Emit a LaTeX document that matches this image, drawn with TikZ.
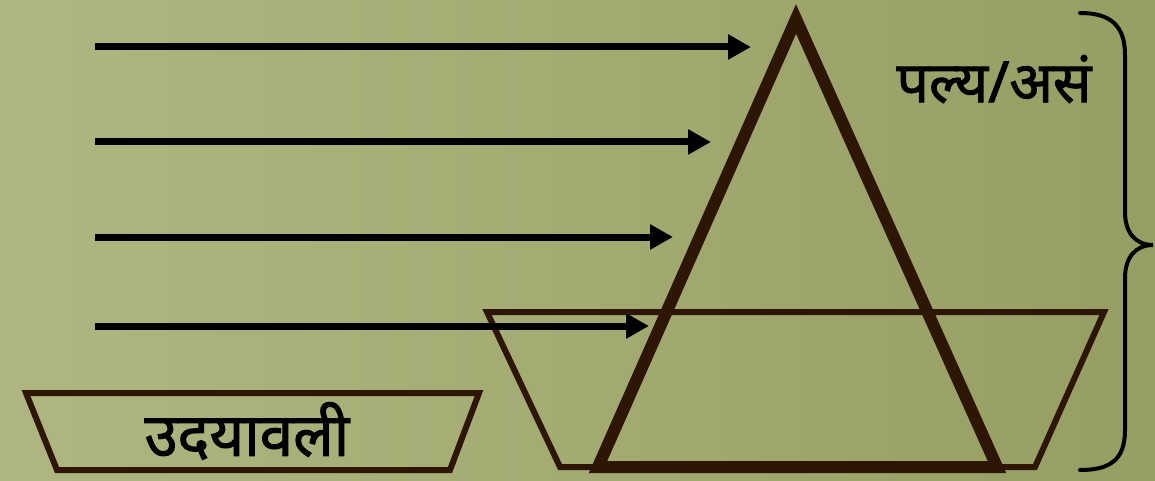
\documentclass[tikz,border=0pt]{standalone}
\usepackage{fontspec}
\newfontfamily\deva[Script=Devanagari,FakeBold=1.6]{Noto Sans}
\usetikzlibrary{arrows.meta}
\definecolor{bgA}{RGB}{176,182,128}
\definecolor{bgB}{RGB}{150,158,100}
\definecolor{brn}{RGB}{46,22,5}
\tikzset{
  arr/.style={line width=7pt,-{Triangle[length=23pt,width=24pt]}},
  tri/.style={draw=brn,line width=12pt,line join=miter},
  trap/.style={draw=brn,line width=6pt,line join=miter},
  lbl/.style={inner sep=0pt},
  brc/.style={draw=black,line width=4pt,line cap=round}
}
\begin{document}
\begin{tikzpicture}[x=1pt,y=-1pt]
\useasboundingbox (0,0) rectangle (1155,481);
\shade[left color=bgA,right color=bgB] (0,0) rectangle (1155,481);
% big trapezoid
\draw[trap] (487,312) -- (1104,312) -- (1035,467) -- (560,467) -- cycle;
% triangle
\coordinate (apex) at (796,19);
\coordinate (bl) at (598,467);
\coordinate (br) at (997,467);
\draw[tri] (apex) -- (br) -- (bl) -- cycle;
% small trapezoid
\draw[trap] (26,393) -- (479,393) -- (450,470) -- (57,470) -- cycle;
\node[lbl,font=\deva\fontsize{60}{64}\selectfont] (uday) at (247,431) {उदयावली};
\node[lbl,font=\deva\fontsize{57}{60}\selectfont] (paly) at (994,79) {पल्य/असं};
% arrows
\coordinate (s1) at (95,47);  \coordinate (e1) at (751,47);
\coordinate (s2) at (95,142); \coordinate (e2) at (711,142);
\coordinate (s3) at (95,237); \coordinate (e3) at (673,237);
\coordinate (s4) at (95,326); \coordinate (e4) at (649,326);
\draw[arr] (s1) -- (e1);
\draw[arr] (s2) -- (e2);
\draw[arr] (s3) -- (e3);
\draw[arr] (s4) -- (e4);
% brace
\coordinate (bt) at (1080,13);
\coordinate (bm) at (1153,245);
\coordinate (bb) at (1080,470);
\draw[brc] (bt) .. controls (1110,13) and (1125,25) .. (1125,55)
  -- (1125,212) .. controls (1125,232) and (1135,245) .. (bm)
  .. controls (1135,245) and (1125,258) .. (1125,278)
  -- (1125,430) .. controls (1125,460) and (1110,470) .. (bb);
\end{tikzpicture}
\end{document}
